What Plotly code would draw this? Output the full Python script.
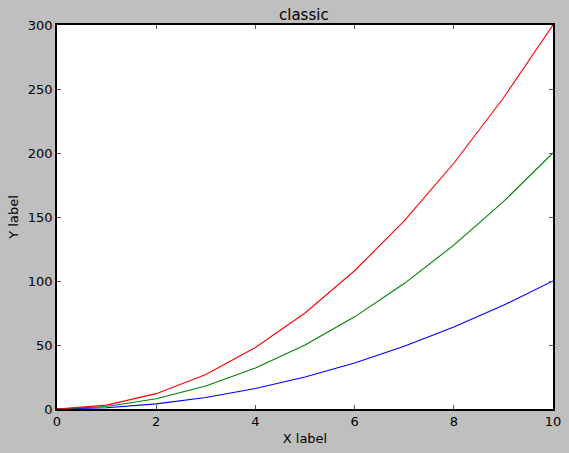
import plotly.graph_objects as go

x = [0, 1, 2, 3, 4, 5, 6, 7, 8, 9, 10]
y1 = [0, 1, 4, 9, 16, 25, 36, 49, 64, 81, 100]
y2 = [0, 2, 8, 18, 32, 50, 72, 98, 128, 162, 200]
y3 = [0, 3, 12, 27, 48, 75, 108, 147, 192, 243, 300]

fig = go.Figure()
for y, c in [(y1, "#0000ff"), (y2, "#008000"), (y3, "#ff0000")]:
    fig.add_trace(go.Scatter(x=x, y=y, mode="lines", line=dict(color=c, width=1.1), showlegend=False))

ax = dict(showline=True, linecolor="black", linewidth=1.5, mirror="ticks", ticks="inside",
          ticklen=4, tickcolor="#555555", tickwidth=1, showgrid=False, zeroline=False,
          automargin=False,
          tickfont=dict(family="DejaVu Sans", size=13, color="black"))
fig.update_xaxes(range=[0, 10], dtick=2, title=dict(text="X label", font=dict(family="DejaVu Sans", size=13, color="black"), standoff=6), **ax)
fig.update_yaxes(range=[0, 300], dtick=50, title=dict(text="Y label", font=dict(family="DejaVu Sans", size=13, color="black"), standoff=6), **ax)
fig.update_layout(
    width=569, height=453,
    margin=dict(l=57, r=16, t=25, b=44, autoexpand=False),
    paper_bgcolor="#bfbfbf", plot_bgcolor="white",
    title=dict(text="classic", x=0.534, xanchor="center", y=0.968, yanchor="middle",
               font=dict(family="DejaVu Sans", size=15, color="black")),
)
fig.write_html("out.html", config={"displayModeBar": False},
               post_script="document.body.style.margin='0';document.body.style.background='#bfbfbf';")
